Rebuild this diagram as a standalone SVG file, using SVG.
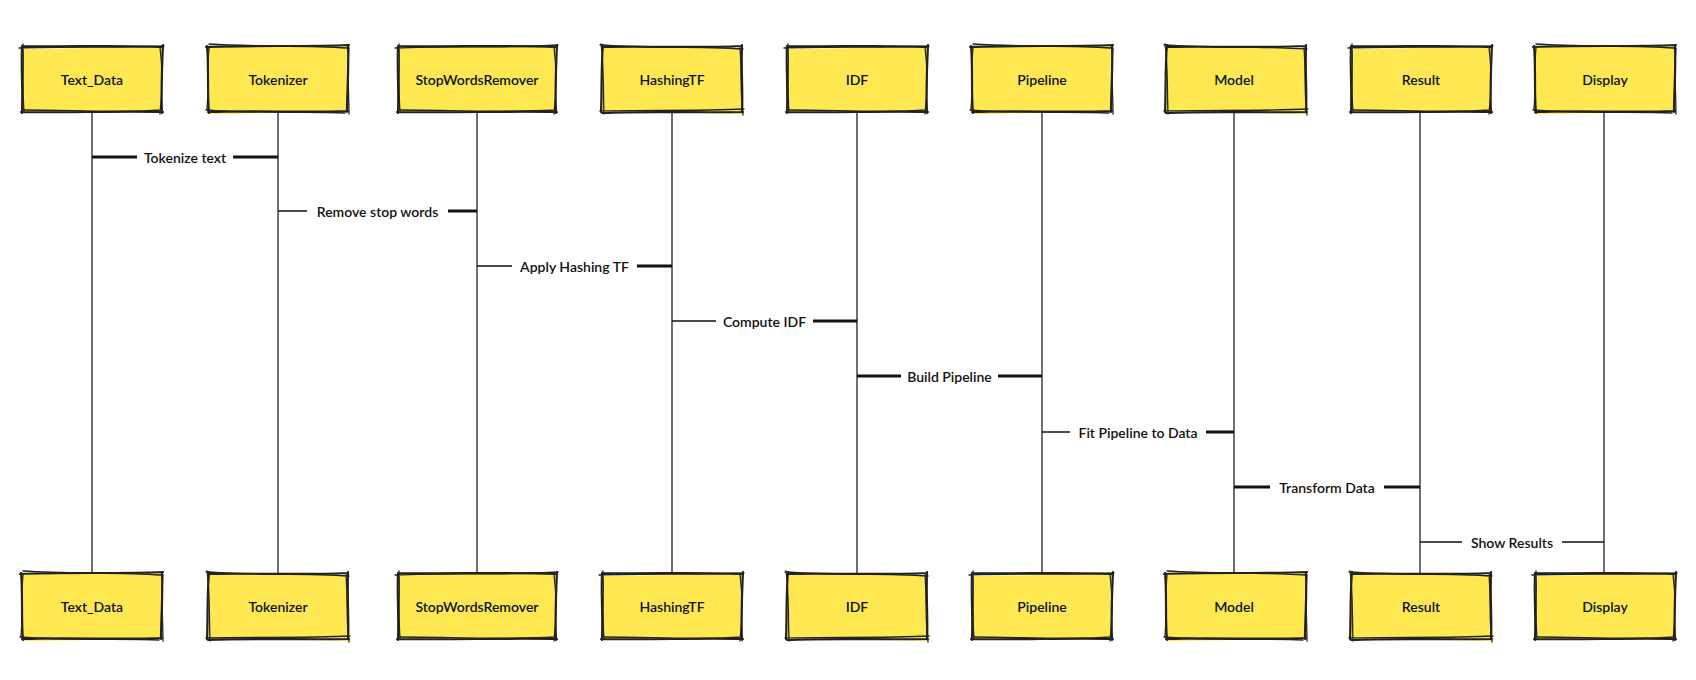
<svg xmlns="http://www.w3.org/2000/svg" xmlns:xlink="http://www.w3.org/1999/xlink" width="1696" height="680" viewBox="0 0 1696 680">
<style>
.fill{fill:#FFE852;stroke:none}
.edge{fill:none;stroke:#222;stroke-width:2.2;stroke-linecap:round;stroke-linejoin:round}
.edge2{fill:none;stroke:#222;stroke-width:1.3;stroke-linecap:round}
.lbl{font-family:Lato,"Open Sans","Liberation Sans",sans-serif;font-size:14px;font-weight:600;fill:#111;text-anchor:middle;dominant-baseline:central}
.msg{font-family:Lato,"Open Sans","Liberation Sans",sans-serif;font-size:14px;font-weight:600;fill:#111;text-anchor:middle;dominant-baseline:central}
.life{fill:none;stroke:#333;stroke-width:1.4}
.thick{fill:none;stroke:#111;stroke-width:3}
.thin{fill:none;stroke:#111;stroke-width:1.5}
</style>
<defs>
<g id="boxA">
<path class="fill" d="M2 3 L141 1 L139 67 L-1 66 Z"/>
<path class="edge" d="M0 0 C40 1 100 -1 140 1 M141 -1 C140 20 139 45 140 67 M141 66 C95 65 45 67 -1 66 M0 67 C1 45 -1 20 0 0"/>
<path class="edge2" d="M-3 2 C45 0 95 2 142 0 M138 1 C141 25 140 50 138 68 M139 64 C100 67 50 64 1 64 M2 66 C0 40 2 20 1 -2"/>
</g>
<g id="boxB">
<path class="fill" d="M-1 1 L139 -1 L141 66 L1 68 Z"/>
<path class="edge" d="M-2 1 C40 -1 100 1 141 -1 M140 0 C141 25 139 45 139 66 M140 65 C95 67 45 64 0 66 M1 67 C-1 45 1 20 -1 0"/>
<path class="edge2" d="M1 -2 C45 1 95 -1 139 2 M141 2 C139 25 141 50 141 68 M137 67 C100 65 50 68 -2 64 M-1 63 C1 40 -1 20 1 2"/>
</g>
<g id="boxC">
<path class="fill" d="M0 0 L140 2 L142 68 L-2 65 Z"/>
<path class="edge" d="M1 1 C40 0 100 2 139 0 M140 -1 C139 22 141 45 140 66 M141 66 C95 67 45 65 0 67 M-1 66 C0 45 -1 20 1 -1"/>
<path class="edge2" d="M-2 -1 C45 2 95 0 141 3 M138 2 C140 25 138 50 141 69 M142 63 C100 65 50 64 -2 65 M2 68 C1 40 2 20 -1 -2"/>
</g>
<g id="boxW">
<path class="fill" d="M2 1 L159 -1 L157 67 L0 66 Z"/>
<path class="edge" d="M0 0 C50 1 110 -1 158 1 M159 -1 C158 20 157 45 158 67 M159 66 C105 65 55 67 -1 66 M0 67 C1 45 -1 20 0 0"/>
<path class="edge2" d="M-3 2 C55 0 105 2 160 -1 M156 1 C159 25 158 50 156 68 M157 64 C110 67 50 64 1 64 M2 66 C0 40 2 20 1 -2"/>
</g>
</defs>
<rect width="1696" height="680" fill="#ffffff"/>

<g id="lifelines">
<path class="life" d="M92 112 L92 573"/>
<path class="life" d="M278 112 L278 573"/>
<path class="life" d="M477 112 L477 573"/>
<path class="life" d="M672 112 L672 573"/>
<path class="life" d="M857 112 L857 573"/>
<path class="life" d="M1042 112 L1042 573"/>
<path class="life" d="M1234 112 L1234 573"/>
<path class="life" d="M1420 112 L1420 573"/>
<path class="life" d="M1604 112 L1604 573"/>
</g>

<g id="connectors">
<path class="thick" d="M92 157 L137 157"/><path class="thick" d="M233 157 L278 157"/>
<text class="msg" x="185" y="157">Tokenize text</text>
<path class="thin" d="M278 211 L307 211"/><path class="thick" d="M448 211 L477 211"/>
<text class="msg" x="377.5" y="211">Remove stop words</text>
<path class="thin" d="M477 266 L512 266"/><path class="thick" d="M637 266 L672 266"/>
<text class="msg" x="574.5" y="266">Apply Hashing TF</text>
<path class="thin" d="M672 321 L716 321"/><path class="thick" d="M813 321 L857 321"/>
<text class="msg" x="764.5" y="321">Compute IDF</text>
<path class="thick" d="M857 376 L901 376"/><path class="thick" d="M998 376 L1042 376"/>
<text class="msg" x="949.5" y="376">Build Pipeline</text>
<path class="thin" d="M1042 432 L1070 432"/><path class="thick" d="M1206 432 L1234 432"/>
<text class="msg" x="1138" y="432">Fit Pipeline to Data</text>
<path class="thick" d="M1234 487 L1270 487"/><path class="thick" d="M1384 487 L1420 487"/>
<text class="msg" x="1327" y="487">Transform Data</text>
<path class="thin" d="M1420 542 L1462 542"/><path class="thin" d="M1562 542 L1604 542"/>
<text class="msg" x="1512" y="542">Show Results</text>
</g>

<g id="Text_Data_top"><use xlink:href="#boxA" x="22" y="46"/><text class="lbl" x="92" y="79">Text_Data</text></g>
<g id="Tokenizer_top"><use xlink:href="#boxB" x="208" y="46"/><text class="lbl" x="278" y="79">Tokenizer</text></g>
<g id="StopWordsRemover_top"><use xlink:href="#boxW" x="398" y="46"/><text class="lbl" x="477" y="79">StopWordsRemover</text></g>
<g id="HashingTF_top"><use xlink:href="#boxC" x="602" y="46"/><text class="lbl" x="672" y="79">HashingTF</text></g>
<g id="IDF_top"><use xlink:href="#boxA" x="787" y="46"/><text class="lbl" x="857" y="79">IDF</text></g>
<g id="Pipeline_top"><use xlink:href="#boxB" x="972" y="46"/><text class="lbl" x="1042" y="79">Pipeline</text></g>
<g id="Model_top"><use xlink:href="#boxC" x="1166" y="46"/><text class="lbl" x="1234" y="79">Model</text></g>
<g id="Result_top"><use xlink:href="#boxA" x="1351" y="46"/><text class="lbl" x="1421" y="79">Result</text></g>
<g id="Display_top"><use xlink:href="#boxB" x="1535" y="46"/><text class="lbl" x="1605" y="79">Display</text></g>

<g id="Text_Data_bottom"><use xlink:href="#boxB" x="22" y="573"/><text class="lbl" x="92" y="606">Text_Data</text></g>
<g id="Tokenizer_bottom"><use xlink:href="#boxC" x="208" y="573"/><text class="lbl" x="278" y="606">Tokenizer</text></g>
<g id="StopWordsRemover_bottom"><use xlink:href="#boxW" x="398" y="573"/><text class="lbl" x="477" y="606">StopWordsRemover</text></g>
<g id="HashingTF_bottom"><use xlink:href="#boxA" x="602" y="573"/><text class="lbl" x="672" y="606">HashingTF</text></g>
<g id="IDF_bottom"><use xlink:href="#boxC" x="787" y="573"/><text class="lbl" x="857" y="606">IDF</text></g>
<g id="Pipeline_bottom"><use xlink:href="#boxA" x="972" y="573"/><text class="lbl" x="1042" y="606">Pipeline</text></g>
<g id="Model_bottom"><use xlink:href="#boxB" x="1166" y="573"/><text class="lbl" x="1234" y="606">Model</text></g>
<g id="Result_bottom"><use xlink:href="#boxC" x="1351" y="573"/><text class="lbl" x="1421" y="606">Result</text></g>
<g id="Display_bottom"><use xlink:href="#boxA" x="1535" y="573"/><text class="lbl" x="1605" y="606">Display</text></g>
</svg>
